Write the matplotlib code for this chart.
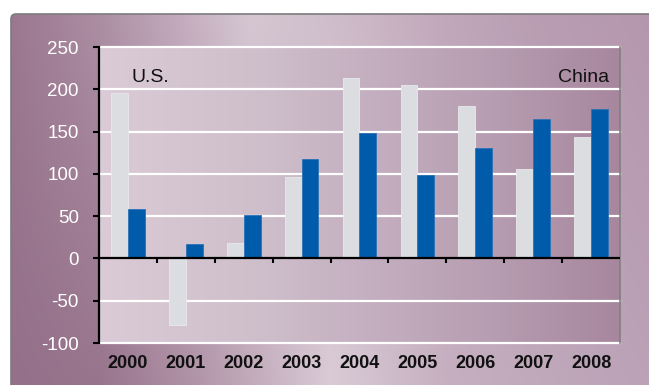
import numpy as np
import matplotlib
matplotlib.use('Agg')
import matplotlib.pyplot as plt
from matplotlib.colors import to_rgb
from matplotlib.patches import FancyBboxPatch

# annual values, U.S. vs China
years = ['2000', '2001', '2002', '2003', '2004', '2005', '2006', '2007', '2008']
us = [196, -79, 18, 96, 213, 205, 180, 106, 144]
china = [58, 17, 51, 117, 148, 99, 131, 165, 177]

plt.rcParams['font.family'] = ['Liberation Sans', 'DejaVu Sans']
plt.rcParams['axes.unicode_minus'] = False


def ramp(xs, stops, colors):
    cols = [to_rgb(c) for c in colors]
    return np.stack([np.interp(xs, stops, [c[i] for c in cols]) for i in range(3)], -1)


fig = plt.figure(figsize=(6.49, 3.85), dpi=100)

# panel background (pixel coords, y down)
bg = fig.add_axes([0, 0, 1, 1], zorder=-10)
px = np.arange(0, 650)
top_row = ramp(px, [11, 100, 180, 250, 350, 450, 550, 649],
               ['#9b7890', '#ad8fa4', '#c4adbf', '#d6c8d3', '#cdbac8', '#c0a7ba', '#b89cb1', '#b597ad'])
bot_row = ramp(px, [11, 100, 200, 330, 450, 649],
               ['#94708a', '#98758d', '#b295a9', '#dacbd6', '#c5afc0', '#bba2b7'])
wy = np.linspace(0, 1, 386)[:, None, None]
grad = top_row[None] * (1 - wy) + bot_row[None] * wy
im = bg.imshow(grad, extent=(0, 649, 385, 0), aspect='auto', interpolation='bilinear')
panel = FancyBboxPatch((11, 14), 700, 400, boxstyle='round,pad=0,rounding_size=5',
                       transform=bg.transData, fc='none', ec='#7c7c7c', lw=1.2)
bg.add_patch(panel)
im.set_clip_path(panel)
bg.set_xlim(0, 649)
bg.set_ylim(385, 0)
bg.axis('off')

# plot area
ax = fig.add_axes([99 / 649, 1 - 343 / 385, 521 / 649, 296 / 385], zorder=1)
ax.set_facecolor('none')
xp = np.linspace(0, 1, 300)
area = ramp(xp, [0, 0.3, 0.52, 0.77, 1.0], ['#dacbd6', '#cfbfcb', '#c4afc0', '#b69cb0', '#a7879e'])
ax.imshow(area[None], extent=(-0.5, 8.5, -100, 250), aspect='auto', zorder=0)

x = np.arange(len(years))
w = 0.29
ax.bar(x - 0.145, us, w, color='#dcdde0', edgecolor='#e8e9ec', lw=0.6, zorder=2)
ax.bar(x + 0.145, china, w, color='#005baa', edgecolor='#2c72b6', lw=0.6, zorder=2)

for v in [-100, -50, 50, 100, 150, 200, 250]:
    ax.axhline(v, color='white', lw=1.6, zorder=1, clip_on=False)
ax.axhline(0, color='black', lw=1.6, zorder=3)
ax.vlines(np.arange(0.5, 8), -5, 0, color='black', lw=1.5, zorder=3)

ax.set_xlim(-0.5, 8.5)
ax.set_ylim(-100, 250)

for s in ['top', 'bottom']:
    ax.spines[s].set_visible(False)
ax.spines['left'].set_color('black')
ax.spines['left'].set_linewidth(1.6)
ax.spines['right'].set_color('#808080')
ax.spines['right'].set_linewidth(1.2)

ax.set_yticks(range(-100, 251, 50))
ax.tick_params(axis='y', direction='out', length=4.5, width=1.5, colors='black',
               labelcolor='white', labelsize=13.5, pad=10)

ax.set_xticks(x, years)
ax.tick_params(axis='x', length=0, pad=9, labelcolor='#111111')
for lbl in ax.get_xticklabels():
    lbl.set_fontweight('bold')
    lbl.set_fontsize(13)

ax.text(0.063, 0.882, 'U.S.', transform=ax.transAxes, ha='left', va='baseline',
        fontsize=14, color='#111111', zorder=4)
ax.text(0.979, 0.882, 'China', transform=ax.transAxes, ha='right', va='baseline',
        fontsize=14, color='#111111', zorder=4)

fig.savefig('out.png', dpi=100)
